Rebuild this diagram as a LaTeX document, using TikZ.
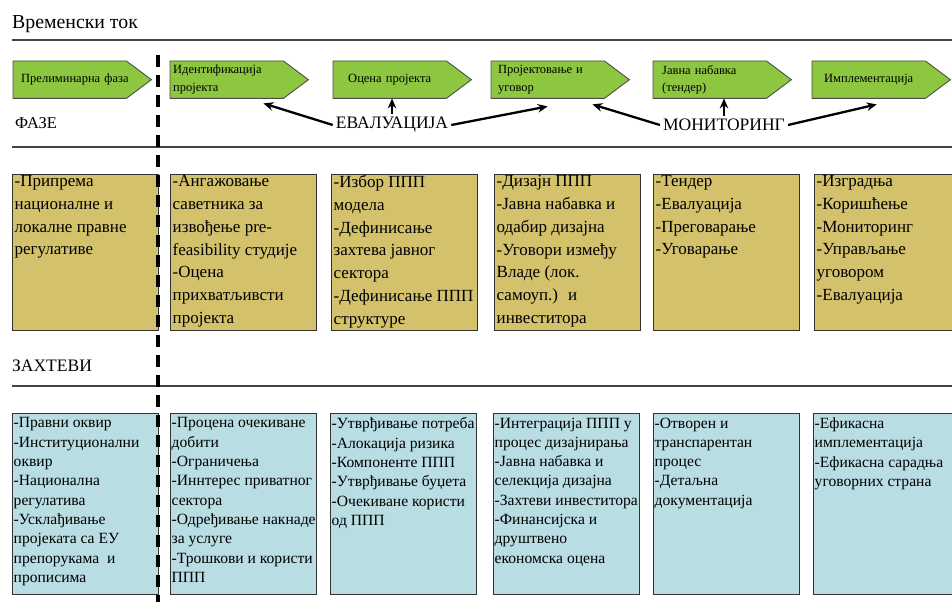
\documentclass[tikz,border=0pt]{standalone}
\usepackage{fontspec}
\setmainfont{Liberation Serif}
\usetikzlibrary{arrows.meta, calc, backgrounds}
\definecolor{phGreen}{HTML}{8DC63F}
\definecolor{phKhaki}{HTML}{D3C16C}
\definecolor{phBlue}{HTML}{B8DDE2}
\definecolor{phLine}{HTML}{444444}
\tikzset{
  % work in pixels of the page, y running downwards
  every picture/.append style = {x=1pt, y=-1pt},
  rule/.style       = {phLine, line width=1.6pt},
  phase/.style      = {anchor=north west, minimum width=113pt, minimum height=37pt,
                       text width=107pt, inner xsep=3pt, inner ysep=0pt, align=left,
                       font=\fontsize{12.5}{17.5}\selectfont},
  phaseshape/.style = {fill=phGreen, draw=black!70, line width=0.9pt},
  taskbox/.style    = {anchor=north west, draw=black!80, line width=1.3pt, fill=phKhaki,
                       minimum width=146pt, minimum height=156pt, inner sep=0pt},
  needbox/.style    = {taskbox, fill=phBlue, minimum height=181pt},
  tasktxt/.style    = {anchor=north west, align=left, inner xsep=2.5pt, inner ysep=1.5pt,
                       font=\fontsize{17}{22.7}\selectfont},
  needtxt/.style    = {tasktxt, inner xsep=1.5pt, inner ysep=4.5pt,
                       font=\fontsize{15.6}{19.3}\selectfont},
  head/.style       = {anchor=west, inner sep=0pt, font=\fontsize{17}{20}\selectfont},
  stage/.style      = {inner sep=3pt, font=\fontsize{17.5}{20}\selectfont},
  note/.style       = {-{Stealth[length=10pt, width=8.5pt]}, line width=2.3pt},
}

\begin{document}
\begin{tikzpicture}
  \useasboundingbox (0,0) rectangle (952,602);
  % headings and rules
  \node[head, font=\fontsize{19.8}{22}\selectfont] (title) at (12,24) {Временски ток};
  \draw[rule] (12,40) -- (952,40);
  \node[head, font=\fontsize{16.5}{20}\selectfont] (faze) at (15,123) {ФАЗЕ};
  \draw[rule] (12,147) -- (952,147);
  \node[head, font=\fontsize{17.5}{20}\selectfont] (zahtevi) at (12,366) {ЗАХТЕВИ};
  \draw[rule] (12,386) -- (952,386);

  % phases along the time line
  \node[phase] (p1) at (13,61) {\hspace*{5pt}\mbox{Прелиминарна фаза}};
  \node[phase] (p2) at (170,61) {Идентификација\\пројекта};
  \node[phase, align=center] (p3) at (333,61) {Оцена пројекта};
  \node[phase, text width=99pt, inner xsep=7pt] (p4) at (491,61) {Пројектовање и\\уговор};
  \node[phase, text width=95pt, inner xsep=9pt] (p5) at (653,61) {Јавна набавка\\(тендер)};
  \node[phase, align=center] (p6) at (812,61) {Имплементација};
  \begin{scope}[on background layer]
    \foreach \i in {1,...,6}
      \draw[phaseshape] (p\i.north west) -- (p\i.north east) -- ($(p\i.east)+(25,0)$)
        -- (p\i.south east) -- (p\i.south west) -- cycle;
  \end{scope}

  % evaluation and monitoring
  \node[stage] (ev) at (392,125) {ЕВАЛУАЦИЈА};
  \node[stage] (mon) at (724,125) {МОНИТОРИНГ};
  \draw[note] (ev.west) -- ($(p2.south east)+(-20,5)$);
  \draw[note] (ev.north) -- (ev.north |- p3.south);
  \draw[note] (ev.east) -- ($(p4.south)+(0,8)$);
  \draw[note] (mon.west) -- ($(p4.south east)+(-12,6)$);
  \draw[note] (mon.north) -- (mon.north |- p5.south);
  \draw[note] (mon.east) -- ($(p6.south)+(8,6)$);

  % tasks of each phase
  \node[taskbox] (t1) at (12,174) {};
  \node[tasktxt] (t1txt) at (t1.north west) {-Припрема\\националне и\\локалне правне\\регулативе};
  \node[taskbox] (t2) at (170,174) {};
  \node[tasktxt] (t2txt) at (t2.north west) {-Ангажовање\\саветника за\\извођење pre-\\feasibility студије\\-Оцена\\прихватљивсти\\пројекта};
  \node[taskbox] (t3) at (331,174) {};
  \node[tasktxt] (t3txt) at (t3.north west) {-Избор ППП\\модела\\-Дефинисање\\захтева јавног\\сектора\\-Дефинисање ППП\\структуре};
  \node[taskbox] (t4) at (494,174) {};
  \node[tasktxt] (t4txt) at (t4.north west) {-Дизајн ППП\\-Јавна набавка и\\одабир дизајна\\-Уговори између\\Владе (лок.\\самоуп.)~ и\\инвеститора};
  \node[taskbox] (t5) at (653,174) {};
  \node[tasktxt] (t5txt) at (t5.north west) {-Тендер\\-Евалуација\\-Преговарање\\-Уговарање};
  \node[taskbox, minimum width=150pt] (t6) at (814,174) {};
  \node[tasktxt] (t6txt) at (t6.north west) {-Изградња\\-Коришћење\\-Мониторинг\\-Управљање\\уговором\\-Евалуација};

  % requirements of each phase
  \node[needbox] (n1) at (12,413) {};
  \node[needtxt] (n1txt) at (n1.north west) {-Правни оквир\\-Институционални\\оквир\\-Национална\\регулатива\\-Усклађивање\\пројеката са ЕУ\\препорукама~ и\\прописима};
  \node[needbox] (n2) at (170,413) {};
  \node[needtxt] (n2txt) at (n2.north west) {-Процена очекиване\\добити\\-Ограничења\\-Иннтерес приватног\\сектора\\-Одређивање накнаде\\за услуге\\-Трошкови и користи\\ППП};
  \node[needbox] (n3) at (330,413) {};
  \node[needtxt] (n3txt) at (n3.north west) {-Утврђивање потреба\\-Алокација ризика\\-Компоненте ППП\\-Утврђивање буџета\\-Очекиване користи\\од ППП};
  \node[needbox] (n4) at (493,413) {};
  \node[needtxt] (n4txt) at (n4.north west) {-Интеграција ППП у\\процес дизајнирања\\-Јавна набавка и\\селекција дизајна\\-Захтеви инвеститора\\-Финансијска и\\друштвено\\економска оцена};
  \node[needbox] (n5) at (653,413) {};
  \node[needtxt] (n5txt) at (n5.north west) {-Отворен и\\транспарентан\\процес\\-Детаљна\\документација};
  \node[needbox, minimum width=150pt] (n6) at (813,413) {};
  \node[needtxt] (n6txt) at (n6.north west) {-Ефикасна\\имплементација\\-Ефикасна сарадња\\уговорних страна};

  % border of the preliminary phase
  \draw[line width=4pt, dash pattern=on 12pt off 8pt] (158,55) -- (158,602);
\end{tikzpicture}
\end{document}
